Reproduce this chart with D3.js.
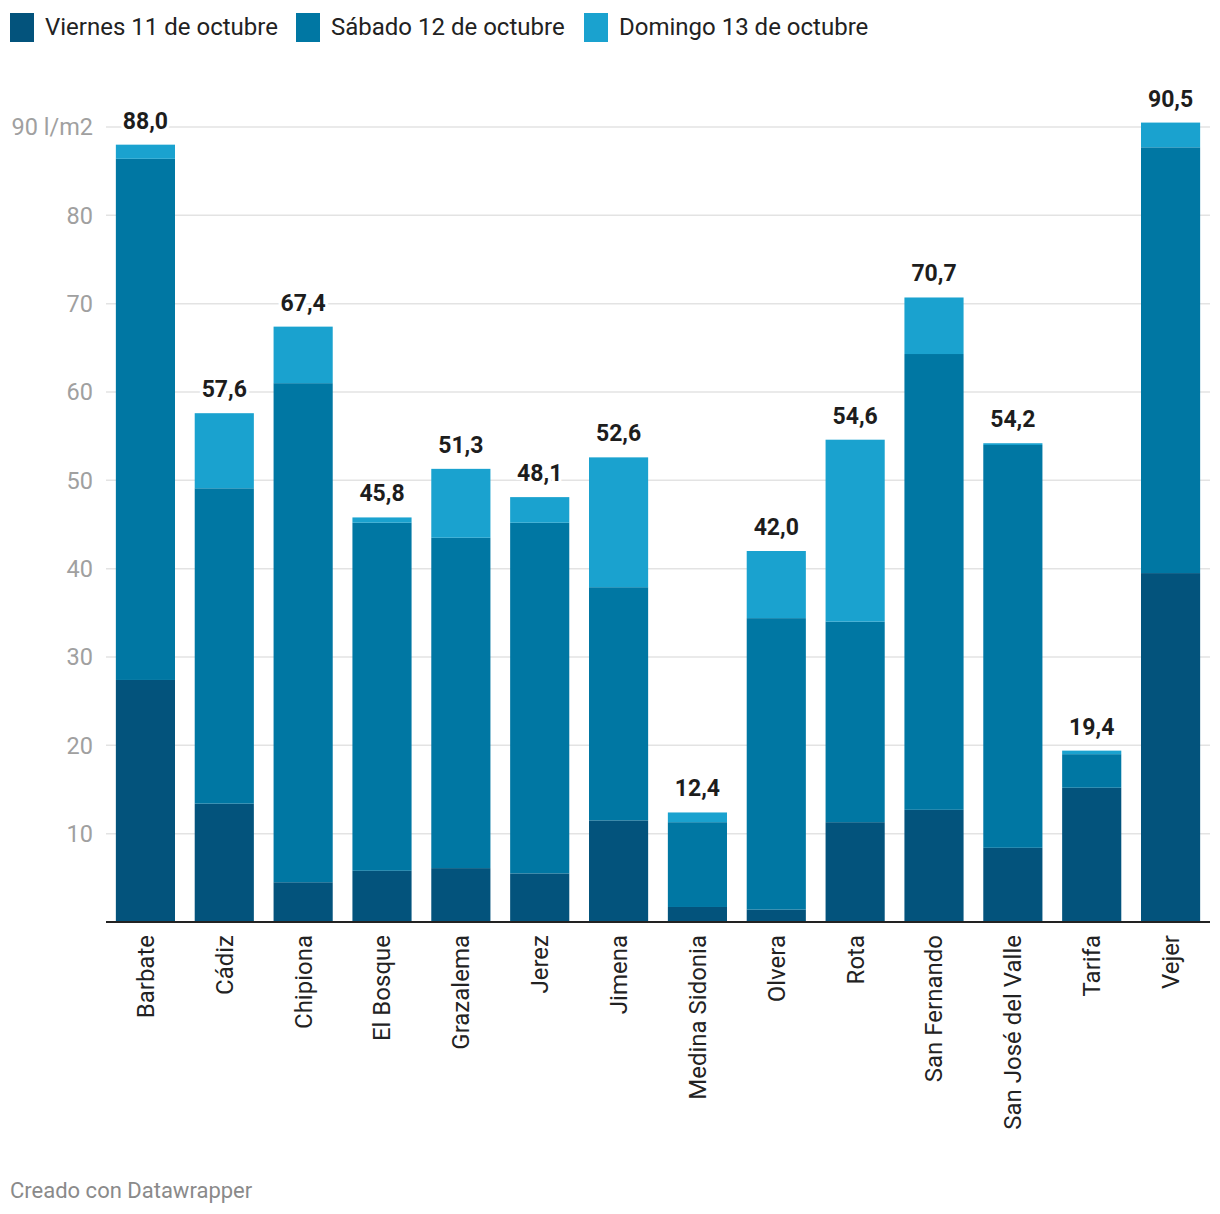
<!DOCTYPE html>
<html><head><meta charset="utf-8">
<script src="https://cdn.jsdelivr.net/npm/d3@7"></script>
<style>body{margin:0;background:#fff;font-family:Roboto,sans-serif;}</style>
</head><body><svg id="c" width="1220" height="1214"></svg>
<script>
const categories = ["Barbate","Cádiz","Chipiona","El Bosque","Grazalema","Jerez","Jimena","Medina Sidonia","Olvera","Rota","San Fernando","San José del Valle","Tarifa","Vejer"];
const seriesNames = ["Viernes 11 de octubre","Sábado 12 de octubre","Domingo 13 de octubre"];
const viernes = [27.4,13.4,4.5,5.8,6.1,5.5,11.5,1.7,1.4,11.3,12.7,8.4,15.2,39.5];
const sabado  = [59.0,35.7,56.5,39.4,37.4,39.7,26.4,9.6,33.0,22.7,51.6,45.6,3.8,48.2];
const domingo = [1.6,8.5,6.4,0.6,7.8,2.9,14.7,1.1,7.6,20.6,6.4,0.2,0.4,2.8];
const totals  = [88.0,57.6,67.4,45.8,51.3,48.1,52.6,12.4,42.0,54.6,70.7,54.2,19.4,90.5];
const yTicks = [10,20,30,40,50,60,70,80,90];
const colors = ["#03537c","#0077a3","#1aa2cf"];

const svg = d3.select("#c");
const x = d3.scaleBand().domain(categories).range([106,1210]).paddingInner(0.25).paddingOuter(0.125);
const y = d3.scaleLinear().domain([0,90]).range([922,127]);

// grid
const g = svg.append("g");
g.selectAll("line.grid").data(yTicks).join("line")
  .attr("x1",106).attr("x2",1210).attr("y1",d=>y(d)).attr("y2",d=>y(d))
  .attr("stroke","#e3e3e3").attr("stroke-width",1.5);
g.selectAll("text.yl").data(yTicks).join("text")
  .attr("x",93).attr("y",d=>y(d)).attr("dy","0.35em").attr("text-anchor","end")
  .attr("fill","#a0a0a0").attr("font-size",23.5)
  .text(d=>d===90?"90 l/m2":d);

// stacks
const data = categories.map((c,i)=>({cat:c, v:viernes[i], s:sabado[i], d:domingo[i]}));
const stack = d3.stack().keys(["v","s","d"])(data);
svg.append("g").selectAll("g").data(stack).join("g").attr("fill",(d,i)=>colors[i])
  .selectAll("rect").data(d=>d).join("rect")
  .attr("x",d=>x(d.data.cat)).attr("width",x.bandwidth())
  .attr("y",d=>y(d[1])).attr("height",d=>y(d[0])-y(d[1]));

// baseline
svg.append("line").attr("x1",106).attr("x2",1210).attr("y1",922).attr("y2",922)
  .attr("stroke","#222").attr("stroke-width",2);

// value labels
svg.append("g").selectAll("text").data(categories).join("text")
  .attr("x",d=>x(d)+x.bandwidth()/2).attr("y",(d,i)=>y(totals[i])-16)
  .attr("text-anchor","middle").attr("font-size",23).attr("font-weight","bold").attr("fill","#1d1d1d")
  .attr("stroke","#fff").attr("stroke-width",6).attr("paint-order","stroke").attr("stroke-linejoin","round")
  .text((d,i)=>totals[i].toFixed(1).replace(".",","));

// x labels
svg.append("g").selectAll("text").data(categories).join("text")
  .attr("transform",d=>`translate(${x(d)+x.bandwidth()/2},935) rotate(-90)`)
  .attr("text-anchor","end").attr("dy","0.35em").attr("font-size",24).attr("fill","#222")
  .text(d=>d);

// legend
const legX = [10,296,584];
const leg = svg.append("g").selectAll("g").data(seriesNames).join("g")
  .attr("transform",(d,i)=>`translate(${legX[i]},13)`);
leg.append("rect").attr("width",24).attr("height",29).attr("fill",(d,i)=>colors[i]);
leg.append("text").attr("x",35).attr("y",14).attr("dy","0.35em").attr("font-size",24).attr("fill","#222").text(d=>d);

// footer
svg.append("text").attr("x",10).attr("y",1198).attr("font-size",22).attr("fill","#8a8a8a").text("Creado con Datawrapper");
</script></body></html>
